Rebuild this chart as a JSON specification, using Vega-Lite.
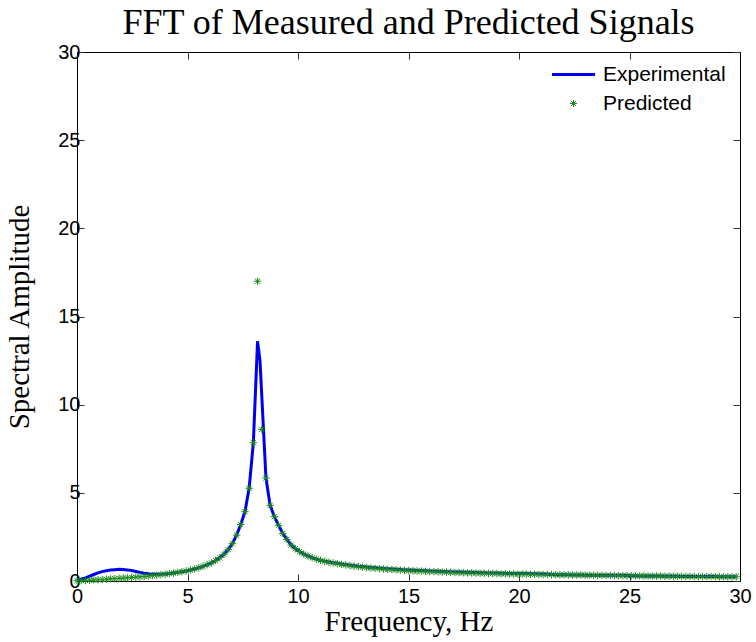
{
  "$schema": "https://vega.github.io/schema/vega-lite/v6.json",
  "width": 663,
  "height": 529,
  "autosize": "none",
  "padding": {"left": 77, "top": 52, "right": 16, "bottom": 61},
  "background": "white",
  "config": {
    "view": {"stroke": "black", "strokeWidth": 1},
    "axis": {"grid": false, "domainColor": "black", "tickColor": "#333333", "labelColor": "black", "titleColor": "black", "labelFont": "Liberation Sans", "labelFontSize": 20, "titleFont": "Liberation Serif", "titleFontSize": 29, "titleFontWeight": "normal", "tickSize": -7, "labelFlush": false, "labelOverlap": false}
  },
  "title": {"text": "FFT of Measured and Predicted Signals", "font": "Liberation Serif", "fontSize": 36, "fontWeight": "normal", "color": "black", "anchor": "middle", "baseline": "alphabetic", "offset": -28},
  "datasets": {
    "exp": [
      {"freq":0,"amp":0.05},{"freq":0.19,"amp":0.10},{"freq":0.38,"amp":0.18},{"freq":0.57,"amp":0.27},{"freq":0.76,"amp":0.37},{"freq":0.95,"amp":0.46},{"freq":1.14,"amp":0.53},{"freq":1.33,"amp":0.58},{"freq":1.52,"amp":0.62},{"freq":1.71,"amp":0.64},{"freq":1.9,"amp":0.66},{"freq":2.09,"amp":0.65},{"freq":2.28,"amp":0.63},{"freq":2.47,"amp":0.59},{"freq":2.66,"amp":0.54},{"freq":2.85,"amp":0.49},{"freq":3.04,"amp":0.44},{"freq":3.23,"amp":0.41},{"freq":3.42,"amp":0.39},{"freq":3.61,"amp":0.38},{"freq":3.8,"amp":0.38},{"freq":3.99,"amp":0.40},{"freq":4.18,"amp":0.42},{"freq":4.37,"amp":0.45},{"freq":4.56,"amp":0.49},{"freq":4.75,"amp":0.53},{"freq":4.94,"amp":0.57},{"freq":5.13,"amp":0.62},{"freq":5.32,"amp":0.68},{"freq":5.51,"amp":0.75},{"freq":5.7,"amp":0.83},{"freq":5.89,"amp":0.92},{"freq":6.08,"amp":1.03},{"freq":6.27,"amp":1.16},{"freq":6.46,"amp":1.32},{"freq":6.65,"amp":1.52},{"freq":6.84,"amp":1.78},{"freq":7.03,"amp":2.12},{"freq":7.22,"amp":2.60},{"freq":7.41,"amp":3.20},{"freq":7.6,"amp":3.93},{"freq":7.79,"amp":5.26},{"freq":7.98,"amp":7.84},{"freq":8.17,"amp":13.6},{"freq":8.28,"amp":12.5},{"freq":8.55,"amp":5.84},{"freq":8.74,"amp":4.29},{"freq":8.93,"amp":3.65},{"freq":9.12,"amp":3.16},{"freq":9.31,"amp":2.7},{"freq":9.5,"amp":2.36},{"freq":9.69,"amp":2.04},{"freq":9.88,"amp":1.83},{"freq":10.07,"amp":1.67},{"freq":10.26,"amp":1.53},{"freq":10.45,"amp":1.42},{"freq":10.64,"amp":1.32},{"freq":10.83,"amp":1.24},{"freq":11.02,"amp":1.17},{"freq":11.21,"amp":1.12},{"freq":11.4,"amp":1.08},{"freq":11.59,"amp":1.04},{"freq":11.78,"amp":1.01},{"freq":11.97,"amp":0.97},{"freq":12.16,"amp":0.94},{"freq":12.35,"amp":0.90},{"freq":12.54,"amp":0.87},{"freq":12.73,"amp":0.84},{"freq":12.92,"amp":0.82},{"freq":13.11,"amp":0.79},{"freq":13.3,"amp":0.77},{"freq":13.49,"amp":0.75},{"freq":13.68,"amp":0.73},{"freq":13.87,"amp":0.71},{"freq":14.06,"amp":0.69},{"freq":14.25,"amp":0.68},{"freq":14.44,"amp":0.66},{"freq":14.63,"amp":0.65},{"freq":14.82,"amp":0.63},{"freq":15.01,"amp":0.62},{"freq":15.2,"amp":0.61},{"freq":15.39,"amp":0.60},{"freq":15.58,"amp":0.59},{"freq":15.77,"amp":0.58},{"freq":15.96,"amp":0.57},{"freq":16.15,"amp":0.56},{"freq":16.34,"amp":0.55},{"freq":16.53,"amp":0.54},{"freq":16.72,"amp":0.53},{"freq":16.91,"amp":0.52},{"freq":17.1,"amp":0.51},{"freq":17.29,"amp":0.51},{"freq":17.48,"amp":0.50},{"freq":17.67,"amp":0.49},{"freq":17.86,"amp":0.49},{"freq":18.05,"amp":0.48},{"freq":18.24,"amp":0.47},{"freq":18.43,"amp":0.47},{"freq":18.62,"amp":0.46},{"freq":18.81,"amp":0.46},{"freq":19.0,"amp":0.45},{"freq":19.19,"amp":0.44},{"freq":19.38,"amp":0.44},{"freq":19.57,"amp":0.43},{"freq":19.76,"amp":0.43},{"freq":19.95,"amp":0.42},{"freq":20.14,"amp":0.42},{"freq":20.33,"amp":0.42},{"freq":20.52,"amp":0.41},{"freq":20.71,"amp":0.41},{"freq":20.9,"amp":0.40},{"freq":21.09,"amp":0.39},{"freq":21.28,"amp":0.38},{"freq":21.47,"amp":0.37},{"freq":21.66,"amp":0.36},{"freq":21.85,"amp":0.35},{"freq":22.04,"amp":0.35},{"freq":22.23,"amp":0.35},{"freq":22.42,"amp":0.34},{"freq":22.61,"amp":0.34},{"freq":22.8,"amp":0.34},{"freq":22.99,"amp":0.33},{"freq":23.18,"amp":0.33},{"freq":23.37,"amp":0.32},{"freq":23.56,"amp":0.32},{"freq":23.75,"amp":0.32},{"freq":23.94,"amp":0.32},{"freq":24.13,"amp":0.33},{"freq":24.32,"amp":0.33},{"freq":24.51,"amp":0.33},{"freq":24.7,"amp":0.32},{"freq":24.89,"amp":0.31},{"freq":25.08,"amp":0.30},{"freq":25.27,"amp":0.30},{"freq":25.46,"amp":0.29},{"freq":25.65,"amp":0.29},{"freq":25.84,"amp":0.28},{"freq":26.03,"amp":0.28},{"freq":26.22,"amp":0.28},{"freq":26.41,"amp":0.28},{"freq":26.6,"amp":0.27},{"freq":26.79,"amp":0.27},{"freq":26.98,"amp":0.27},{"freq":27.17,"amp":0.27},{"freq":27.36,"amp":0.26},{"freq":27.55,"amp":0.26},{"freq":27.74,"amp":0.26},{"freq":27.93,"amp":0.25},{"freq":28.12,"amp":0.25},{"freq":28.31,"amp":0.25},{"freq":28.5,"amp":0.25},{"freq":28.69,"amp":0.25},{"freq":28.88,"amp":0.25},{"freq":29.07,"amp":0.24},{"freq":29.26,"amp":0.24},{"freq":29.45,"amp":0.24},{"freq":29.64,"amp":0.24},{"freq":29.83,"amp":0.24}
    ],
    "pred": [
      {"freq":0,"amp":0.02},{"freq":0.19,"amp":0.02},{"freq":0.38,"amp":0.03},{"freq":0.57,"amp":0.04},{"freq":0.76,"amp":0.06},{"freq":0.95,"amp":0.07},{"freq":1.14,"amp":0.09},{"freq":1.33,"amp":0.10},{"freq":1.52,"amp":0.12},{"freq":1.71,"amp":0.13},{"freq":1.9,"amp":0.15},{"freq":2.09,"amp":0.17},{"freq":2.28,"amp":0.18},{"freq":2.47,"amp":0.20},{"freq":2.66,"amp":0.22},{"freq":2.85,"amp":0.24},{"freq":3.04,"amp":0.26},{"freq":3.23,"amp":0.28},{"freq":3.42,"amp":0.31},{"freq":3.61,"amp":0.33},{"freq":3.8,"amp":0.36},{"freq":3.99,"amp":0.39},{"freq":4.18,"amp":0.42},{"freq":4.37,"amp":0.45},{"freq":4.56,"amp":0.49},{"freq":4.75,"amp":0.53},{"freq":4.94,"amp":0.57},{"freq":5.13,"amp":0.62},{"freq":5.32,"amp":0.68},{"freq":5.51,"amp":0.75},{"freq":5.7,"amp":0.83},{"freq":5.89,"amp":0.92},{"freq":6.08,"amp":1.03},{"freq":6.27,"amp":1.16},{"freq":6.46,"amp":1.32},{"freq":6.65,"amp":1.52},{"freq":6.84,"amp":1.78},{"freq":7.03,"amp":2.12},{"freq":7.22,"amp":2.60},{"freq":7.41,"amp":3.20},{"freq":7.6,"amp":3.93},{"freq":7.79,"amp":5.26},{"freq":7.98,"amp":7.84},{"freq":8.17,"amp":17.0},{"freq":8.36,"amp":8.6},{"freq":8.55,"amp":5.84},{"freq":8.74,"amp":4.29},{"freq":8.93,"amp":3.65},{"freq":9.12,"amp":3.16},{"freq":9.31,"amp":2.7},{"freq":9.5,"amp":2.36},{"freq":9.69,"amp":2.04},{"freq":9.88,"amp":1.83},{"freq":10.07,"amp":1.67},{"freq":10.26,"amp":1.53},{"freq":10.45,"amp":1.42},{"freq":10.64,"amp":1.32},{"freq":10.83,"amp":1.24},{"freq":11.02,"amp":1.17},{"freq":11.21,"amp":1.11},{"freq":11.4,"amp":1.06},{"freq":11.59,"amp":1.02},{"freq":11.78,"amp":0.98},{"freq":11.97,"amp":0.94},{"freq":12.16,"amp":0.91},{"freq":12.35,"amp":0.87},{"freq":12.54,"amp":0.84},{"freq":12.73,"amp":0.81},{"freq":12.92,"amp":0.79},{"freq":13.11,"amp":0.76},{"freq":13.3,"amp":0.74},{"freq":13.49,"amp":0.72},{"freq":13.68,"amp":0.70},{"freq":13.87,"amp":0.68},{"freq":14.06,"amp":0.66},{"freq":14.25,"amp":0.65},{"freq":14.44,"amp":0.63},{"freq":14.63,"amp":0.62},{"freq":14.82,"amp":0.60},{"freq":15.01,"amp":0.59},{"freq":15.2,"amp":0.58},{"freq":15.39,"amp":0.57},{"freq":15.58,"amp":0.56},{"freq":15.77,"amp":0.55},{"freq":15.96,"amp":0.54},{"freq":16.15,"amp":0.53},{"freq":16.34,"amp":0.52},{"freq":16.53,"amp":0.51},{"freq":16.72,"amp":0.50},{"freq":16.91,"amp":0.49},{"freq":17.1,"amp":0.48},{"freq":17.29,"amp":0.48},{"freq":17.48,"amp":0.47},{"freq":17.67,"amp":0.46},{"freq":17.86,"amp":0.46},{"freq":18.05,"amp":0.45},{"freq":18.24,"amp":0.44},{"freq":18.43,"amp":0.44},{"freq":18.62,"amp":0.43},{"freq":18.81,"amp":0.43},{"freq":19.0,"amp":0.42},{"freq":19.19,"amp":0.41},{"freq":19.38,"amp":0.41},{"freq":19.57,"amp":0.40},{"freq":19.76,"amp":0.40},{"freq":19.95,"amp":0.39},{"freq":20.14,"amp":0.39},{"freq":20.33,"amp":0.39},{"freq":20.52,"amp":0.38},{"freq":20.71,"amp":0.38},{"freq":20.9,"amp":0.37},{"freq":21.09,"amp":0.37},{"freq":21.28,"amp":0.37},{"freq":21.47,"amp":0.36},{"freq":21.66,"amp":0.36},{"freq":21.85,"amp":0.35},{"freq":22.04,"amp":0.35},{"freq":22.23,"amp":0.35},{"freq":22.42,"amp":0.34},{"freq":22.61,"amp":0.34},{"freq":22.8,"amp":0.34},{"freq":22.99,"amp":0.33},{"freq":23.18,"amp":0.33},{"freq":23.37,"amp":0.32},{"freq":23.56,"amp":0.32},{"freq":23.75,"amp":0.32},{"freq":23.94,"amp":0.31},{"freq":24.13,"amp":0.31},{"freq":24.32,"amp":0.31},{"freq":24.51,"amp":0.30},{"freq":24.7,"amp":0.30},{"freq":24.89,"amp":0.30},{"freq":25.08,"amp":0.30},{"freq":25.27,"amp":0.29},{"freq":25.46,"amp":0.29},{"freq":25.65,"amp":0.29},{"freq":25.84,"amp":0.28},{"freq":26.03,"amp":0.28},{"freq":26.22,"amp":0.28},{"freq":26.41,"amp":0.28},{"freq":26.6,"amp":0.27},{"freq":26.79,"amp":0.27},{"freq":26.98,"amp":0.27},{"freq":27.17,"amp":0.27},{"freq":27.36,"amp":0.26},{"freq":27.55,"amp":0.26},{"freq":27.74,"amp":0.26},{"freq":27.93,"amp":0.25},{"freq":28.12,"amp":0.25},{"freq":28.31,"amp":0.25},{"freq":28.5,"amp":0.25},{"freq":28.69,"amp":0.25},{"freq":28.88,"amp":0.25},{"freq":29.07,"amp":0.24},{"freq":29.26,"amp":0.24},{"freq":29.45,"amp":0.24},{"freq":29.64,"amp":0.24},{"freq":29.83,"amp":0.24}
    ]
  },
  "layer": [
    {
      "data": {"name": "exp"},
      "transform": [{"calculate": "'Experimental'", "as": "series"}],
      "mark": {"type": "line", "strokeWidth": 3, "clip": true},
      "encoding": {
        "x": {"field": "freq", "type": "quantitative", "scale": {"domain": [0, 30], "nice": false}, "axis": {"orient": "bottom", "values": [0, 5, 10, 15, 20, 25, 30], "title": "Frequency, Hz", "labelPadding": 12, "titlePadding": 1}},
        "y": {"field": "amp", "type": "quantitative", "scale": {"domain": [0, 30], "nice": false}, "axis": {"orient": "left", "values": [0, 5, 10, 15, 20, 25, 30], "title": "Spectral Amplitude", "labelPadding": 4, "titlePadding": 23}},
        "color": {"field": "series", "type": "nominal", "scale": {"domain": ["Experimental", "Predicted"], "range": ["#0000ee", "#1a8a1a"]},
          "legend": {"title": null, "orient": "none", "legendX": 486, "legendY": 12, "symbolSize": 1849, "symbolStrokeWidth": 3, "labelFont": "Liberation Sans", "labelFontSize": 21, "labelColor": "black", "labelOffset": 19, "rowPadding": 7,
            "encode": {"symbols": {"update": {"size": {"signal": "datum.value === 'Predicted' ? 50 : 1849"}, "strokeWidth": {"signal": "datum.value === 'Predicted' ? 1 : 3"}}}}}}
      }
    },
    {
      "data": {"name": "pred"},
      "transform": [{"calculate": "'Predicted'", "as": "series"}],
      "mark": {"type": "point", "filled": false, "size": 55, "strokeWidth": 1, "opacity": 1},
      "encoding": {
        "x": {"field": "freq", "type": "quantitative", "scale": {"domain": [0, 30], "nice": false}, "axis": {"orient": "top", "values": [0, 5, 10, 15, 20, 25, 30], "labels": false, "title": null}},
        "y": {"field": "amp", "type": "quantitative", "scale": {"domain": [0, 30], "nice": false}, "axis": {"orient": "right", "values": [0, 5, 10, 15, 20, 25, 30], "labels": false, "title": null}},
        "color": {"field": "series", "type": "nominal", "scale": {"domain": ["Experimental", "Predicted"], "range": ["#0000ee", "#1a8a1a"]}},
        "shape": {"field": "series", "type": "nominal", "scale": {"domain": ["Experimental", "Predicted"], "range": ["stroke", "M-1,0L1,0M0,-1L0,1M-0.7,-0.7L0.7,0.7M-0.7,0.7L0.7,-0.7"]}}
      }
    }
  ]
}
